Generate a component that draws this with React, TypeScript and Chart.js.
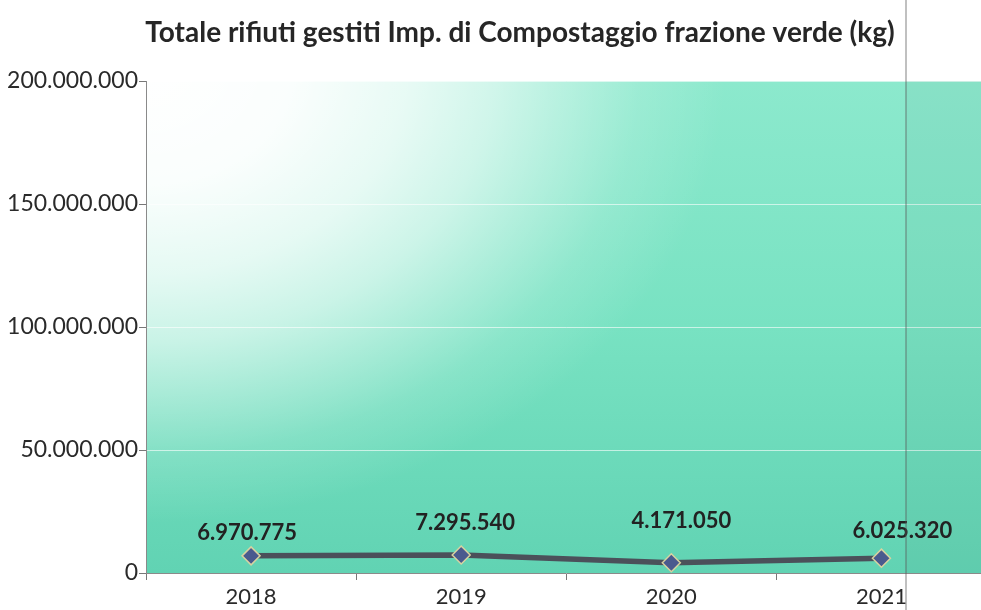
import React, { useEffect, useRef } from "react";
import { Chart, registerables } from "chart.js";

Chart.register(...registerables);

const TITLE = "Totale rifiuti gestiti Imp. di Compostaggio frazione verde (kg)";
const YEARS = ["2018", "2019", "2020", "2021"];
const TOTALS = [6970775, 7295540, 4171050, 6025320];
const Y_MIN = 0;
const Y_MAX = 200000000;
const Y_STEP = 50000000;

// label placement offsets (px) relative to each marker, as in the source
const LABEL_DX = [-4, 4, 10, 21];
const LABEL_DY = [-23, -32, -42, -27];

const fmt = (v: number) => String(Math.round(v)).replace(/\B(?=(\d{3})+(?!\d))/g, ".");

const FONT = "Lato, 'Open Sans', sans-serif";

const bgPlugin = {
  id: "bgPlugin",
  beforeDraw(chart: any) {
    const { ctx, chartArea } = chart;
    const { left, top, right, bottom } = chartArea;
    const w = right - left;
    const h = bottom - top;
    ctx.save();
    ctx.fillStyle = "#ffffff";
    ctx.fillRect(0, 0, chart.width, chart.height);
    const lin = ctx.createLinearGradient(0, top, 0, bottom);
    lin.addColorStop(0, "#8ce9cd");
    lin.addColorStop(0.5, "#78e2c2");
    lin.addColorStop(1, "#61d3b3");
    ctx.fillStyle = lin;
    ctx.fillRect(left, top, w, h);
    // elliptical white glow from top-left corner
    const cx = left;
    const cy = top - 10;
    const rx = 580;
    const s = 0.78;
    ctx.translate(cx, cy);
    ctx.scale(1, s);
    const g = ctx.createRadialGradient(0, 0, 0, 0, 0, rx);
    g.addColorStop(0, "rgba(255,255,255,1)");
    g.addColorStop(0.25, "rgba(255,255,255,0.96)");
    g.addColorStop(0.45, "rgba(255,255,255,0.8)");
    g.addColorStop(0.6, "rgba(255,255,255,0.6)");
    g.addColorStop(0.72, "rgba(255,255,255,0.38)");
    g.addColorStop(0.85, "rgba(255,255,255,0.15)");
    g.addColorStop(1, "rgba(255,255,255,0)");
    ctx.fillStyle = g;
    ctx.fillRect(left - cx, (top - cy) / s, w, h / s);
    ctx.restore();
  },
  afterDraw(chart: any) {
    const { ctx } = chart;
    ctx.save();
    ctx.font = `bold 28px ${FONT}`;
    ctx.fillStyle = "#262626";
    ctx.textAlign = "center";
    ctx.textBaseline = "middle";
    ctx.fillText(TITLE, 520, 33);
    // scan artefact: page fold line and faint shadow on the right
    ctx.fillStyle = "rgba(60,60,60,0.04)";
    ctx.fillRect(906, 81, chart.width - 906, chart.chartArea.bottom - 81);
    ctx.strokeStyle = "rgba(90,90,90,0.5)";
    ctx.lineWidth = 1.5;
    ctx.beginPath();
    ctx.moveTo(906, 0);
    ctx.lineTo(906, chart.height);
    ctx.stroke();
    ctx.restore();
  },
};

const labelPlugin = {
  id: "labelPlugin",
  afterDatasetsDraw(chart: any) {
    const { ctx } = chart;
    const meta = chart.getDatasetMeta(0);
    ctx.save();
    ctx.font = `bold 22px ${FONT}`;
    ctx.fillStyle = "#222222";
    ctx.textAlign = "center";
    ctx.textBaseline = "middle";
    meta.data.forEach((pt: any, i: number) => {
      ctx.fillText(fmt(TOTALS[i]), pt.x + LABEL_DX[i], pt.y + LABEL_DY[i]);
    });
    ctx.restore();
  },
};

export default function App() {
  const ref = useRef<HTMLCanvasElement | null>(null);
  useEffect(() => {
    if (!ref.current) return;
    const chart = new Chart(ref.current, {
      type: "line",
      data: {
        labels: YEARS,
        datasets: [
          {
            data: TOTALS,
            borderColor: "#4b505a",
            borderWidth: 5.5,
            pointStyle: "rectRot",
            pointRadius: 9,
            pointBackgroundColor: "#4a5a8e",
            pointBorderColor: "#d8d2a0",
            pointBorderWidth: 1.5,
            tension: 0,
          },
        ],
      },
      options: {
        animation: false,
        responsive: false,
        maintainAspectRatio: false,
        layout: { padding: { top: 81, right: 0, bottom: 0, left: 0 } },
        plugins: {
          legend: { display: false },
          title: { display: false },
          tooltip: { enabled: false },
        },
        scales: {
          x: {
            type: "category",
            offset: true,
            grid: {
              offset: true,
              drawOnChartArea: false,
              tickLength: 7,
              tickColor: "#777777",
            },
            border: { color: "#8a8a8a", width: 1 },
            ticks: {
              color: "#2a2a2a",
              font: { family: FONT, size: 22 },
              padding: 4,
              maxRotation: 0,
            },
            afterFit(scale: any) {
              scale.height = 37;
            },
          },
          y: {
            min: Y_MIN,
            max: Y_MAX,
            grid: {
              color: "rgba(255,255,255,0.6)",
              tickColor: "#777777",
              tickLength: 7,
            },
            border: { color: "#8a8a8a", width: 1 },
            ticks: {
              stepSize: Y_STEP,
              color: "#2a2a2a",
              font: { family: FONT, size: 23 },
              padding: 1,
              callback: (v: any) => fmt(Number(v)),
            },
            afterFit(scale: any) {
              scale.width = 146;
            },
          },
        },
      },
      plugins: [bgPlugin, labelPlugin],
    });
    return () => chart.destroy();
  }, []);
  return (
    <div
      style={{
        position: "fixed",
        left: 0,
        top: 0,
        width: 981,
        height: 610,
        overflow: "hidden",
        background: "#ffffff",
      }}
    >
      <canvas ref={ref} width={997} height={610} style={{ width: 997, height: 610, display: "block" }} />
    </div>
  );
}
